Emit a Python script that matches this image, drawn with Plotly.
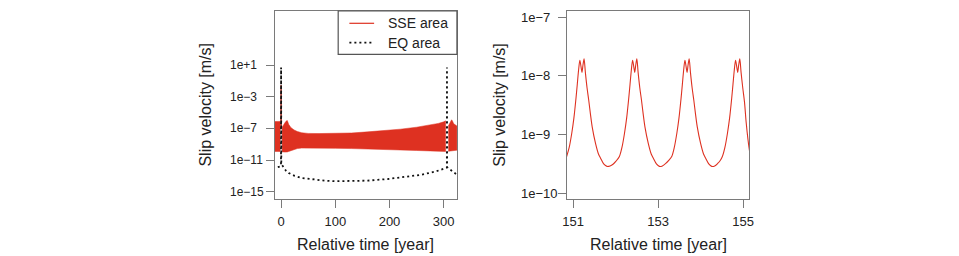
import math
import plotly.graph_objects as go

# ---------------- data ----------------
# Left panel: SSE area slip velocity shown as a dense oscillation band (envelopes)
band_a_t  = [-15, -8, -1.8]
band_a_hi = [7.2e-7, 7.4e-7, 7.5e-7]
band_a_lo = [1.2e-10, 1.2e-10, 1.2e-10]

band_b_t  = [1.8, 4, 7, 10, 11.5, 14, 18, 24, 30, 38, 50, 70, 100, 130, 160, 190, 220, 250, 275, 290, 300, 303.5]
band_b_hi = [1.3e-7, 2.5e-7, 5.0e-7, 8.9e-7, 9.5e-7, 3.2e-7, 1.26e-7, 6.3e-8, 4.0e-8, 2.8e-8, 2.3e-8,
             2.2e-8, 2.2e-8, 2.6e-8, 3.6e-8, 5.2e-8, 7.9e-8, 1.4e-7, 2.5e-7, 4.2e-7, 6.6e-7, 8.9e-7]
band_b_lo = [1.1e-10, 1.05e-10, 1.0e-10, 1.0e-10, 1.05e-10, 1.2e-10, 1.6e-10, 2.2e-10, 2.8e-10, 3.2e-10, 3.2e-10,
             3.2e-10, 3.0e-10, 2.8e-10, 2.5e-10, 2.2e-10, 1.9e-10, 1.6e-10, 1.4e-10, 1.3e-10, 1.2e-10, 1.2e-10]

band_c_t  = [308.5, 311, 314.5, 316, 318, 321, 330]
band_c_hi = [2.0e-7, 5.0e-7, 1.2e-6, 8.9e-7, 4.5e-7, 2.75e-7, 1.26e-7]
band_c_lo = [1.26e-10, 1.26e-10, 1.4e-10, 1.5e-10, 1.6e-10, 1.7e-10, 2.0e-10]

sse_spike_t = [-0.3, 0, 0.3]
sse_spike_v = [1e-7, 3e-2, 1e-7]

# EQ area slip velocity
eq_t = [-15, -11.5, -5, -1, -0.2, 0, 0.4, 1.5, 5, 9, 14, 25, 38, 60, 80, 100, 130, 160, 197, 230,
        258, 285, 300, 304, 305.8, 306, 306.3, 308, 311, 316, 321, 328, 335]
eq_v = [8.9e-13, 1.0e-12, 1.26e-12, 1.6e-12, 2.0e-12, 5.0, 4.0e-12, 2.5e-12, 1.0e-12, 4.5e-13, 2.3e-13,
        1.0e-13, 5.4e-14, 3.3e-14, 2.5e-14, 2.1e-14, 2.1e-14, 2.5e-14, 4.0e-14, 7.0e-14,
        1.35e-13, 3.5e-13, 7.0e-13, 1.0e-12, 1.1e-12, 5.0, 1.26e-12, 1.0e-12, 7.0e-13, 3.6e-13, 2.0e-13, 8.5e-14, 4.0e-14]

# Right panel: SSE area slip velocity, zoom on 151-155 years
zoom_t = [150.85, 150.91, 150.97, 151.02, 151.07, 151.10, 151.13, 151.16, 151.19, 151.21, 151.235, 151.26,
          151.29, 151.33, 151.37, 151.41, 151.45, 151.53, 151.60, 151.65, 151.72, 151.80, 151.87, 151.94, 152.01,
          152.09, 152.15, 152.21, 152.26, 152.31, 152.34, 152.37, 152.40, 152.43, 152.45, 152.475, 152.50,
          152.53, 152.57, 152.61, 152.65, 152.69, 152.77, 152.84, 152.89, 152.96, 153.03, 153.10, 153.18, 153.25,
          153.32, 153.38, 153.44, 153.49, 153.54, 153.57, 153.60, 153.63, 153.66, 153.68, 153.705, 153.73,
          153.76, 153.80, 153.84, 153.88, 153.92, 154.00, 154.07, 154.12, 154.19, 154.26, 154.33, 154.40, 154.46,
          154.51, 154.57, 154.63, 154.68, 154.73, 154.76, 154.79, 154.82, 154.85, 154.87, 154.895, 154.92,
          154.95, 154.99, 155.03, 155.07, 155.11, 155.15, 155.19]
zoom_v = [4.2e-10, 6.0e-10, 1.05e-9, 1.9e-9, 4.2e-9, 7.2e-9, 1.25e-8, 1.85e-8, 1.4e-8, 1.15e-8, 1.55e-8, 1.95e-8,
          1.15e-8, 6.2e-9, 3.8e-9, 2.2e-9, 1.35e-9, 7.0e-10, 4.6e-10, 3.9e-10, 3.15e-10, 2.85e-10, 2.9e-10, 3.1e-10, 3.5e-10,
          4.2e-10, 6.0e-10, 1.05e-9, 1.9e-9, 4.2e-9, 7.2e-9, 1.25e-8, 1.85e-8, 1.4e-8, 1.15e-8, 1.55e-8, 1.95e-8,
          1.15e-8, 6.2e-9, 3.8e-9, 2.2e-9, 1.35e-9, 7.0e-10, 4.6e-10, 3.9e-10, 3.15e-10, 2.85e-10, 2.9e-10, 3.2e-10, 3.6e-10,
          4.2e-10, 6.0e-10, 1.05e-9, 1.9e-9, 4.2e-9, 7.2e-9, 1.25e-8, 1.85e-8, 1.4e-8, 1.15e-8, 1.55e-8, 1.95e-8,
          1.15e-8, 6.2e-9, 3.8e-9, 2.2e-9, 1.35e-9, 7.0e-10, 4.6e-10, 3.9e-10, 3.15e-10, 2.85e-10, 2.9e-10, 3.2e-10, 3.6e-10,
          4.2e-10, 6.0e-10, 1.05e-9, 1.9e-9, 4.2e-9, 7.2e-9, 1.25e-8, 1.85e-8, 1.4e-8, 1.15e-8, 1.55e-8, 1.95e-8,
          1.15e-8, 6.2e-9, 3.6e-9, 1.6e-9, 8.5e-10, 5.2e-10, 4.0e-10]

left_xticks = [0, 100, 200, 300]
left_yticks = [1e1, 1e-3, 1e-7, 1e-11, 1e-15]
left_yticktext = ["1e+1", "1e\u22123", "1e\u22127", "1e\u221211", "1e\u221215"]
right_xticks = [151, 153, 155]
right_yticks = [1e-7, 1e-8, 1e-9, 1e-10]
right_yticktext = ["1e\u22127", "1e\u22128", "1e\u22129", "1e\u221210"]

legend_labels = ["SSE area", "EQ area"]
x_title = "Relative time [year]"
y_title = "Slip velocity [m/s]"

# ---------------- styling ----------------
W, H = 959, 256
RED = "rgb(222,49,33)"
GRAY = "#7a7a7a"
TXT = "#222222"
FONT = "Liberation Sans, Arial, sans-serif"
EQ_DASH = "2px,3px"

fig = go.Figure()

def band(t, hi, lo, xa, ya):
    fig.add_trace(go.Scatter(x=list(t) + list(t)[::-1], y=list(hi) + list(lo)[::-1],
                             mode="lines", fill="toself", fillcolor=RED,
                             line=dict(color=RED, width=0.5), showlegend=False,
                             hoverinfo="skip", xaxis=xa, yaxis=ya))

band(band_a_t, band_a_hi, band_a_lo, "x", "y")
band(band_b_t, band_b_hi, band_b_lo, "x", "y")
band(band_c_t, band_c_hi, band_c_lo, "x", "y")

fig.add_trace(go.Scatter(x=sse_spike_t, y=sse_spike_v, mode="lines", name=legend_labels[0],
                         line=dict(color=RED, width=1.2), xaxis="x", yaxis="y"))
fig.add_trace(go.Scatter(x=eq_t, y=eq_v, mode="lines", name=legend_labels[1],
                         line=dict(color="#111111", width=1.8, dash=EQ_DASH), xaxis="x", yaxis="y"))
fig.add_trace(go.Scatter(x=zoom_t, y=zoom_v, mode="lines",
                         line=dict(color=RED, width=1.1, shape="spline", smoothing=0.8),
                         xaxis="x2", yaxis="y2"))

top_px, bot_px = 11, 199.3
ydom = [1 - bot_px / H, 1 - top_px / H]
lx0, lx1 = 272.7, 456.7
rx0, rx1 = 567.7, 752.3

axis_common = dict(showline=True, mirror=True, linecolor=GRAY, linewidth=1.3,
                   ticks="outside", ticklen=8, tickwidth=1.3, tickcolor=GRAY,
                   showgrid=False, zeroline=False,
                   tickfont=dict(family=FONT, size=13, color=TXT))

def px(x):
    return x / W

def py(y):
    return 1 - y / H

# manual legend (R-style box)
lg_x0, lg_x1, lg_y0, lg_y1 = 336.7, lx1, top_px, 54.3
row_y = [23.3, 42.7]
samp_x0, samp_x1, text_x = 348, 373, 385

shapes = [
    dict(type="rect", xref="paper", yref="paper", x0=px(lg_x0), x1=px(lg_x1), y0=py(lg_y1), y1=py(lg_y0),
         line=dict(color="#555555", width=1.2), fillcolor="white", layer="above"),
    dict(type="line", xref="paper", yref="paper", x0=px(samp_x0), x1=px(samp_x1), y0=py(row_y[0]), y1=py(row_y[0]),
         line=dict(color=RED, width=1.2), layer="above"),
    dict(type="line", xref="paper", yref="paper", x0=px(samp_x0), x1=px(samp_x1), y0=py(row_y[1]), y1=py(row_y[1]),
         line=dict(color="#111111", width=1.8, dash=EQ_DASH), layer="above"),
]

annotations = [
    dict(text=x_title, x=px((lx0 + lx1) / 2), y=py(244), xref="paper", yref="paper",
         showarrow=False, xanchor="center", yanchor="middle", font=dict(family=FONT, size=16, color=TXT)),
    dict(text=x_title, x=px((rx0 + rx1) / 2), y=py(244), xref="paper", yref="paper",
         showarrow=False, xanchor="center", yanchor="middle", font=dict(family=FONT, size=16, color=TXT)),
    dict(text=y_title, x=px(201.7), y=py(105), xref="paper", yref="paper", textangle=-90,
         showarrow=False, xanchor="center", yanchor="middle", font=dict(family=FONT, size=16, color=TXT)),
    dict(text=y_title, x=px(499), y=py(105), xref="paper", yref="paper", textangle=-90,
         showarrow=False, xanchor="center", yanchor="middle", font=dict(family=FONT, size=16, color=TXT)),
]
for lbl, yy in zip(legend_labels, row_y):
    annotations.append(dict(text=lbl, x=px(text_x), y=py(yy), xref="paper", yref="paper",
                            showarrow=False, xanchor="left", yanchor="middle",
                            font=dict(family=FONT, size=14, color=TXT)))

# y tick labels: left-aligned, as in the reference
for vals, texts, yref, xleft, fsize in [(left_yticks, left_yticktext, "y", 226, 12),
                                        (right_yticks, right_yticktext, "y2", 520.5, 13)]:
    for v, tx in zip(vals, texts):
        annotations.append(dict(text=tx, x=px(xleft), y=math.log10(v), xref="paper", yref=yref,
                                showarrow=False, xanchor="left", yanchor="middle", borderpad=0,
                                font=dict(family=FONT, size=fsize, color=TXT)))

fig.update_layout(
    width=W, height=H, margin=dict(l=0, r=0, t=0, b=0),
    paper_bgcolor="white", plot_bgcolor="white",
    font=dict(family=FONT, color=TXT), showlegend=False,
    xaxis=dict(domain=[px(lx0), px(lx1)], range=[-11.5, 324.4], tickvals=left_xticks,
               anchor="y", ticklabelstandoff=2, **axis_common),
    yaxis=dict(domain=ydom, type="log", range=[-15.96, 7.82], tickvals=left_yticks,
               showticklabels=False, anchor="x", **axis_common),
    xaxis2=dict(domain=[px(rx0), px(rx1)], range=[150.853, 155.147], tickvals=right_xticks,
                anchor="y2", ticklabelstandoff=2, **axis_common),
    yaxis2=dict(domain=ydom, type="log", range=[-10.107, -6.892], tickvals=right_yticks,
                showticklabels=False, anchor="x2", **axis_common),
    shapes=shapes, annotations=annotations,
)

fig.write_html("out.html")
